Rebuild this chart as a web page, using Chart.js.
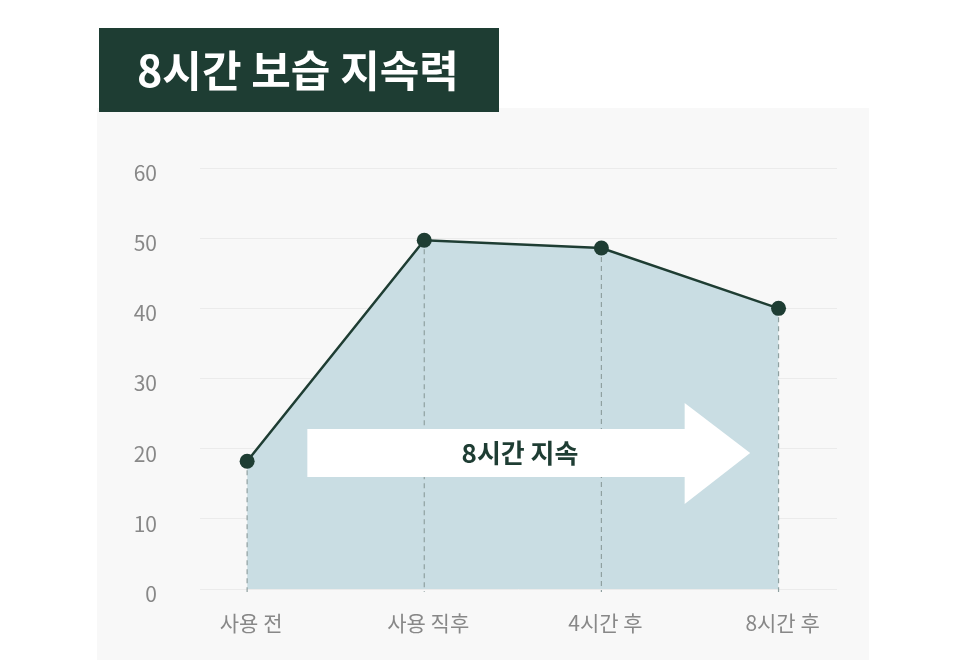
<!DOCTYPE html>
<html lang="ko">
<head>
<meta charset="utf-8">
<title>8시간 보습 지속력</title>
<script src="https://cdn.jsdelivr.net/npm/chart.js@4"></script>
<style>
  html, body { margin: 0; padding: 0; background: #ffffff; }
  #wrap { width: 966px; height: 669px; position: relative; }
</style>
</head>
<body>
<div id="wrap"><canvas id="moistChart"></canvas></div>
<script>
// 데이터
const categories = ["사용 전", "사용 직후", "4시간 후", "8시간 후"];
const moistValues = [18.2, 49.7, 48.6, 40];
const yTicks = [0, 10, 20, 30, 40, 50, 60];
const titleText = "8시간 보습 지속력";
const arrowText = "8시간 지속";

const DARK = "#1e3d33";
const FONT = "'Noto Sans CJK KR', 'Noto Sans', sans-serif";

// 배경 패널 + 제목 박스
const backgroundPlugin = {
  id: "panelBg",
  beforeDraw(chart) {
    const ctx = chart.ctx;
    ctx.save();
    ctx.fillStyle = "#f8f8f8";
    ctx.fillRect(97, 108, 772, 552);
    ctx.fillStyle = DARK;
    ctx.fillRect(99, 28, 400, 84);
    ctx.fillStyle = "#ffffff";
    ctx.font = "bold 43px " + FONT;
    ctx.textBaseline = "middle";
    ctx.textAlign = "left";
    ctx.fillText(titleText, 137, 71);
    ctx.restore();
  }
};

// 점선 + 화살표 (채움 위, 선 아래)
const overlayPlugin = {
  id: "overlay",
  beforeDatasetDraw(chart) {
    const ctx = chart.ctx;
    const xs = chart.scales.x;
    const ys = chart.scales.y;
    const meta = chart.getDatasetMeta(0);
    const base = ys.getPixelForValue(0) + 3;
    ctx.save();
    ctx.strokeStyle = "#8fa0a0";
    ctx.lineWidth = 1.2;
    ctx.setLineDash([5, 4]);
    meta.data.forEach(pt => {
      ctx.beginPath();
      ctx.moveTo(pt.x, pt.y);
      ctx.lineTo(pt.x, base);
      ctx.stroke();
    });
    ctx.setLineDash([]);

    // 화살표
    const cy = ys.getPixelForValue(19.4);
    const x0 = xs.getPixelForValue(0.34);
    const xh = xs.getPixelForValue(2.47);
    const xt = xs.getPixelForValue(2.84);
    ctx.fillStyle = "#ffffff";
    ctx.beginPath();
    ctx.moveTo(x0, cy - 24);
    ctx.lineTo(xh, cy - 24);
    ctx.lineTo(xh, cy - 50);
    ctx.lineTo(xt, cy);
    ctx.lineTo(xh, cy + 51);
    ctx.lineTo(xh, cy + 24);
    ctx.lineTo(x0, cy + 24);
    ctx.closePath();
    ctx.fill();

    ctx.fillStyle = DARK;
    ctx.font = "bold 26px " + FONT;
    ctx.textAlign = "center";
    ctx.textBaseline = "middle";
    ctx.fillText(arrowText, (x0 + xh) / 2 + 24, cy);
    ctx.restore();
  }
};

const ctx = document.getElementById("moistChart").getContext("2d");
const moistChart = new Chart(ctx, {
  type: "line",
  data: {
    datasets: [
      {
        data: moistValues.map((v, i) => ({ x: i, y: v })),
        borderColor: DARK,
        borderWidth: 2.5,
        backgroundColor: "#c9dde3",
        fill: "origin",
        tension: 0,
        pointRadius: 7.5,
        pointHoverRadius: 7.5,
        pointBackgroundColor: DARK,
        pointBorderWidth: 0,
      },
    ],
  },
  options: {
    responsive: true,
    maintainAspectRatio: false,
    animation: false,
    layout: {
      padding: { top: 168, right: 129, left: 0, bottom: 0 },
    },
    plugins: {
      legend: { display: false },
      tooltip: { enabled: false },
    },
    scales: {
      x: {
        type: "linear",
        min: -0.266,
        max: 3.33,
        grid: { display: false },
        border: { display: false },
        afterFit: (scale) => { scale.height = 80; },
        ticks: {
          stepSize: 1,
          includeBounds: false,
          autoSkip: false,
          maxRotation: 0,
          padding: 13,
          labelOffset: 4,
          color: "#888888",
          font: { family: FONT, size: 21 },
          callback: (value) => categories[value] ?? "",
        },
      },
      y: {
        min: yTicks[0],
        max: yTicks[yTicks.length - 1],
        grid: { color: "#ebebeb", lineWidth: 1, drawTicks: false },
        border: { display: false },
        afterFit: (scale) => { scale.width = 200; },
        afterBuildTicks: (scale) => {
          scale.ticks = yTicks.map(v => ({ value: v }));
        },
        ticks: {
          padding: 43,
          labelOffset: 5,
          color: "#888888",
          font: { family: FONT, size: 21 },
        },
      },
    },
  },
  plugins: [backgroundPlugin, overlayPlugin],
});
</script>
</body>
</html>
